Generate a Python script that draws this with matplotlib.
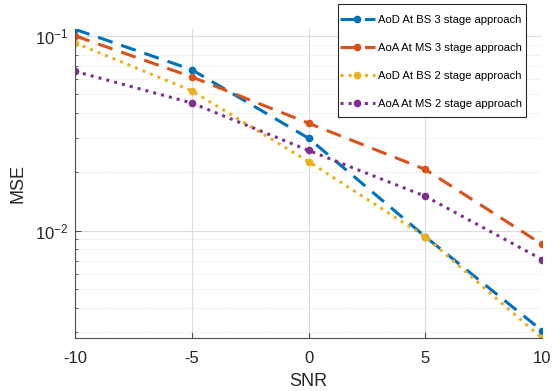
import matplotlib
matplotlib.use("Agg")
import matplotlib.pyplot as plt
from matplotlib.patches import Rectangle
import numpy as np

plt.rcParams['font.family'] = ['Liberation Sans', 'DejaVu Sans']
plt.rcParams['axes.unicode_minus'] = False

# donnees
snr = [-10, -5, 0, 5, 10]
aod_bs_3 = [0.108, 0.067, 0.0298, 0.0093, 0.00306]
aoa_ms_3 = [0.100, 0.0615, 0.0356, 0.0206, 0.0085]
aod_bs_2 = [0.092, 0.0522, 0.0226, 0.0093, 0.0028]
aoa_ms_2 = [0.0657, 0.0452, 0.0258, 0.0150, 0.0071]
labels = ['AoD At BS 3 stage approach', 'AoA At MS 3 stage approach',
          'AoD At BS 2 stage approach', 'AoA At MS 2 stage approach']

W, H = 560, 391
fig = plt.figure(figsize=(W/100, H/100), dpi=100)
ax = fig.add_axes([0.134, 0.135, 0.834, 0.79])

ax.plot(snr, aod_bs_3, '--o', color='#0072BD', lw=2.2, ms=4.5, dashes=(5, 3), label=labels[0])
ax.plot(snr, aoa_ms_3, '--o', color='#D95319', lw=2.2, ms=4.5, dashes=(5, 3), label=labels[1])
ax.plot(snr, aod_bs_2, ':o', color='#EDB120', lw=2.2, ms=4.5, label=labels[2])
ax.plot(snr, aoa_ms_2, ':o', color='#7E2F8E', lw=2.2, ms=4.5, label=labels[3])

ax.set_yscale('log')
ax.set_xlim(-10, 10)
allv = aod_bs_3 + aoa_ms_3 + aod_bs_2 + aoa_ms_2
ax.set_ylim(min(allv), max(allv))
ax.set_xticks([-10, -5, 0, 5, 10])

ax.grid(True, which='major', color='#dcdcdc', lw=0.8, ls='-')
ax.grid(True, which='minor', axis='y', color='#e3e3e3', lw=0.6, ls=(0, (2, 2)))
ax.set_axisbelow(True)

for s in ['top', 'right']:
    ax.spines[s].set_visible(False)
for s in ['left', 'bottom']:
    ax.spines[s].set_color('#4d4d4d')
    ax.spines[s].set_linewidth(0.8)
ax.tick_params(which='both', direction='in', colors='#4d4d4d', labelcolor='#262626', labelsize=12)
ax.tick_params(which='major', length=4)
ax.tick_params(which='minor', length=2)
ax.tick_params(axis='x', pad=9)
ax.tick_params(axis='y', pad=5)

ax.set_xlabel('SNR', fontsize=13, color='#262626', labelpad=5)
ax.set_ylabel('MSE', fontsize=13, color='#262626', labelpad=6)

# cadre de la legende dessine a part
fig.patches.append(Rectangle((338/W, 1 - 117/H), 188/W, 113/H, transform=fig.transFigure,
                             facecolor='white', edgecolor='#262626', lw=0.8, zorder=5))
leg = fig.legend(loc='upper left', bbox_to_anchor=(340/W, 1 - 15/H), fontsize=8.1,
                 frameon=False, handlelength=3.1, labelspacing=1.6,
                 borderpad=0, handletextpad=0.25, borderaxespad=0)
leg.set_zorder(6)

fig.savefig('out.png', dpi=100)
